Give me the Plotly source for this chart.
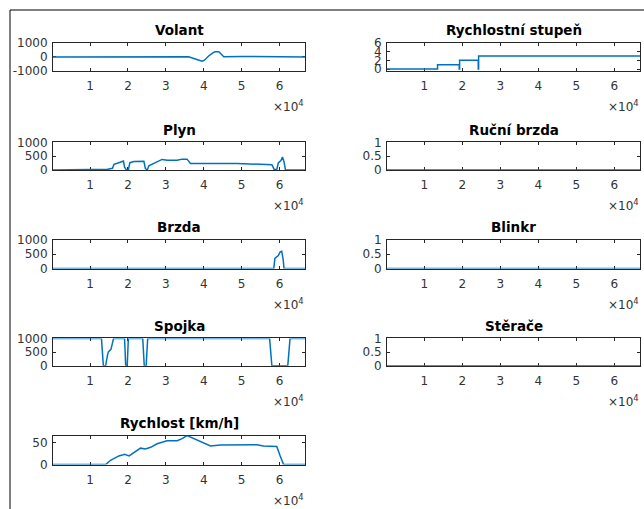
import plotly.graph_objects as go

W, H = 644, 509

# ---------------- data (x in samples) ----------------
volant_x = [0, 6000, 7000, 15000, 25000, 30000, 35000, 36000, 38000, 39600, 40200,
            41300, 42500, 43000, 44000, 45300, 50000, 55000, 60000, 66800]
volant_y = [-30, -25, 20, 30, 20, 0, 10, 0, -180, -330, -250,
            50, 300, 360, 350, 0, 20, 10, 0, -20]

plyn_x = [0, 14100, 14600, 15900, 16300, 17200, 18100, 18800, 19100, 19600,
          20100, 20500, 21600, 24200, 24600, 25100, 25500, 26400, 27700, 29000,
          30400, 33000, 34300, 35600, 36500, 40000, 42600, 48800, 54000, 58000,
          58600, 59300, 59700, 60400, 60800, 61200, 61600, 66800]
plyn_y = [0, 0, 20, 60, 200, 240, 290, 320, 100, 0,
          0, 260, 300, 310, 50, 0, 150, 210, 310, 380,
          350, 350, 390, 390, 230, 220, 230, 230, 220, 190,
          20, 10, 250, 340, 470, 300, 0, 0]

brzda_x = [0, 58500, 58800, 59300, 59700, 60200, 60600, 61000, 61200, 66800]
brzda_y = [0, 0, 350, 420, 450, 580, 600, 300, 0, 0]

spojka_x = [0, 13000, 13500, 14100, 14600, 14800, 15500, 16200, 19100, 19400, 19800,
            20100, 23900, 24300, 24800, 25200, 57400, 58000, 62200, 62800, 66800]
spojka_y = [1000, 1000, 0, 0, 400, 500, 600, 1000, 1000, 0, 0,
            1000, 1000, 0, 0, 1000, 1000, 0, 0, 1000, 1000]

rychlost_x = [0, 14100, 15400, 16800, 17600, 18500, 19100, 20300, 21600, 23300,
              24600, 26000, 27700, 30300, 33000, 34300, 35600, 37400, 39600, 41800,
              44400, 48800, 54000, 55800, 59300, 60200, 61100, 66800]
rychlost_y = [0, 0, 10, 17, 20, 22, 24, 20, 28, 38,
              36, 40, 48, 55, 55, 60, 67, 60, 50, 43,
              45, 46, 46, 43, 42, 20, 0, 0]

stupen_x = [0, 13500, 19200, 19300, 24200, 24300, 66800]
stupen_y = [0, 1, 0, 2, 0, 3, 3]

rucni_x = [0, 66800]
rucni_y = [0, 0]
blinkr_x = [0, 66800]
blinkr_y = [0, 0]
sterace_x = [0, 66800]
sterace_y = [0, 0]

x_tickvals = [10000, 20000, 30000, 40000, 50000, 60000]
x_ticktext = ["1", "2", "3", "4", "5", "6"]

# ---------------- layout geometry (pixels) ----------------
LEFT = (53, 305)
RIGHT = (387, 640)
ROWS = [(42.8, 70.6), (142.3, 169.9), (239.7, 268.6), (338.4, 365.8), (435.6, 464.6)]

panels = [
    dict(t="Volant", x=volant_x, y=volant_y, c=LEFT, r=0, yr=[-1000, 1000],
         yv=[-1000, 0, 1000], yt=["-1000", "0", "1000"], sh="linear"),
    dict(t="Plyn", x=plyn_x, y=plyn_y, c=LEFT, r=1, yr=[0, 1000],
         yv=[0, 500, 1000], yt=["0", "500", "1000"], sh="linear"),
    dict(t="Brzda", x=brzda_x, y=brzda_y, c=LEFT, r=2, yr=[0, 1000],
         yv=[0, 500, 1000], yt=["0", "500", "1000"], sh="linear"),
    dict(t="Spojka", x=spojka_x, y=spojka_y, c=LEFT, r=3, yr=[0, 1000],
         yv=[0, 500, 1000], yt=["0", "500", "1000"], sh="linear"),
    dict(t="Rychlost [km/h]", x=rychlost_x, y=rychlost_y, c=LEFT, r=4, yr=[0, 67],
         yv=[0, 50], yt=["0", "50"], sh="linear"),
    dict(t="Rychlostní stupeň", x=stupen_x, y=stupen_y, c=RIGHT, r=0, yr=[-0.35, 6],
         yv=[0, 2, 4, 6], yt=["0", "2", "4", "6"], sh="hv"),
    dict(t="Ruční brzda", x=rucni_x, y=rucni_y, c=RIGHT, r=1, yr=[0, 1],
         yv=[0, 0.5, 1], yt=["0", "0.5", "1"], sh="linear"),
    dict(t="Blinkr", x=blinkr_x, y=blinkr_y, c=RIGHT, r=2, yr=[0, 1],
         yv=[0, 0.5, 1], yt=["0", "0.5", "1"], sh="linear"),
    dict(t="Stěrače", x=sterace_x, y=sterace_y, c=RIGHT, r=3, yr=[0, 1],
         yv=[0, 0.5, 1], yt=["0", "0.5", "1"], sh="linear"),
]

AX = "#262626"
TXT = "#333333"
LINE = "#0072BD"
TICKFONT = dict(family="DejaVu Sans", size=12, color=TXT)

fig = go.Figure()
layout = dict(width=W, height=H, margin=dict(l=0, r=0, t=0, b=0, autoexpand=False),
              paper_bgcolor="white", plot_bgcolor="white", showlegend=False)
annotations = []

for i, p in enumerate(panels, start=1):
    sfx = "" if i == 1 else str(i)
    x0, x1 = p["c"]
    top, bot = ROWS[p["r"]]
    fig.add_trace(go.Scatter(x=p["x"], y=p["y"], mode="lines",
                             line=dict(color=LINE, width=1.5, shape=p["sh"]),
                             xaxis="x" + sfx, yaxis="y" + sfx, hoverinfo="skip"))
    layout["xaxis" + sfx] = dict(
        domain=[x0 / W, x1 / W], range=[200, 66750], anchor="y" + sfx,
        showgrid=False, zeroline=False, showline=True, linecolor=AX, linewidth=1,
        mirror="ticks", ticks="inside", ticklen=3, tickcolor=AX, tickwidth=1,
        tickvals=x_tickvals, ticktext=x_ticktext, tickfont=TICKFONT,
        ticklabelstandoff=4, layer="below traces", fixedrange=True)
    layout["yaxis" + sfx] = dict(
        domain=[1 - bot / H, 1 - top / H], range=p["yr"], anchor="x" + sfx,
        showgrid=False, zeroline=False, showline=True, linecolor=AX, linewidth=1,
        mirror="ticks", ticks="inside", ticklen=3, tickcolor=AX, tickwidth=1,
        tickvals=p["yv"], ticktext=p["yt"], tickfont=TICKFONT,
        ticklabelstandoff=2, layer="below traces", fixedrange=True)
    # title
    annotations.append(dict(text="<b>" + p["t"] + "</b>", xref="paper", yref="paper",
                            x=(x0 + x1) / 2 / W, y=1 - (top - 12.5) / H,
                            xanchor="center", yanchor="middle", showarrow=False,
                            font=dict(family="DejaVu Sans", size=13.5, color="black")))
    # exponent label
    annotations.append(dict(text="×10<sup>4</sup>", xref="paper", yref="paper",
                            x=(x1 + 1) / W, y=1 - (bot + 35) / H,
                            xanchor="right", yanchor="middle", showarrow=False,
                            font=dict(family="DejaVu Sans", size=12, color=TXT)))

layout["annotations"] = annotations
layout["shapes"] = [
    dict(type="line", xref="paper", yref="paper", x0=10 / W, x1=1, y0=1 - 10 / H, y1=1 - 10 / H,
         line=dict(color="black", width=1)),
    dict(type="line", xref="paper", yref="paper", x0=10 / W, x1=10 / W, y0=0, y1=1 - 10 / H,
         line=dict(color="black", width=1)),
]
fig.update_layout(**layout)
fig.write_html(
    "out.html",
    config={"displayModeBar": False, "responsive": False},
    post_script=("document.documentElement.style.margin='0';"
                 "document.documentElement.style.overflow='hidden';"
                 "document.body.style.margin='0';document.body.style.padding='0';"
                 "document.body.style.overflow='hidden';"),
)
